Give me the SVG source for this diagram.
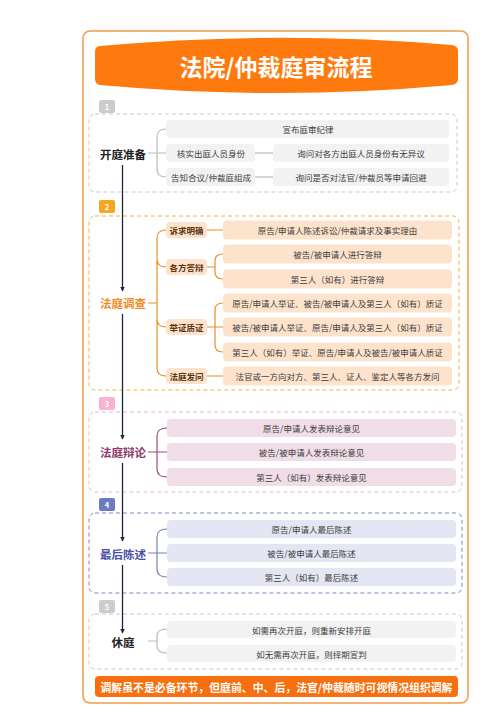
<svg xmlns="http://www.w3.org/2000/svg" width="500" height="721" viewBox="0 0 500 721">
<defs>
<style>
text{font-family:"Noto Sans CJK SC","Noto Sans",sans-serif;}
.t{font-size:8.5px;fill:#3d3d3d;text-anchor:middle;dominant-baseline:central;}
.sl{font-size:8.5px;font-weight:bold;fill:#5a3510;text-anchor:middle;dominant-baseline:central;}
.lab{font-size:11.5px;font-weight:bold;text-anchor:middle;dominant-baseline:central;}
.badge{font-size:7.5px;font-weight:bold;fill:#fff;text-anchor:middle;dominant-baseline:central;}
.dash{fill:none;stroke-width:1;stroke-dasharray:4 3;}
.br{fill:none;stroke-width:1.2;}
.b1{fill:#f2f2f2;}
.b2{fill:#fde3cc;}
.b3{fill:#f1dde7;}
.b4{fill:#e4e6f4;}
.flow{stroke:#1e2640;stroke-width:1.3;fill:none;}
</style>
<marker id="ah" viewBox="0 0 10 10" refX="9" refY="5" markerWidth="5" markerHeight="5" orient="auto" markerUnits="userSpaceOnUse">
<path d="M0,0 L10,5 L0,10 z" fill="#1e2640"/>
</marker>
</defs>

<rect x="0" y="0" width="500" height="721" fill="#ffffff"/>

<g id="frame">
<rect x="83" y="31" width="385" height="672" rx="7" fill="#ffffff" stroke="#f39a4a" stroke-width="1.5"/>
</g>

<g id="title">
<path d="M100,46 Q276,30 452,45 Q458,46 458,51 L458,79 Q458,84 452,85 Q276,101 100,85 Q95,84 95,79 L95,52 Q95,46 100,46 Z" fill="#fe7a0e"/>
<text x="276" y="66" style="font-size:23px;font-weight:bold;fill:#ffffff;text-anchor:middle;dominant-baseline:central;">法院/仲裁庭审流程</text>
</g>

<!-- Section 1 -->
<g id="section1">
<rect x="99" y="100" width="16" height="13" rx="2" fill="#cccccc"/>
<text class="badge" x="107" y="106.5">1</text>
<rect class="dash" x="89" y="114" width="368" height="78" rx="6" stroke="#c8c8c8"/>
<text class="lab" x="123" y="154" fill="#222222">开庭准备</text>
<path class="br" stroke="#bbbbbb" d="M148,153 H166 M166,129 Q157,129 157,137 V169 Q157,177 166,177"/>
<rect class="b1" x="166" y="120" width="283" height="18" rx="4"/>
<text class="t" x="308" y="129">宣布庭审纪律</text>
<rect class="b1" x="166" y="144" width="89" height="18" rx="4"/>
<text class="t" x="211" y="153">核实出庭人员身份</text>
<path class="br" stroke="#bbbbbb" d="M255,153 H273"/>
<rect class="b1" x="273" y="144" width="176" height="18" rx="4"/>
<text class="t" x="361" y="153">询问对各方出庭人员身份有无异议</text>
<rect class="b1" x="166" y="168" width="89" height="18" rx="4"/>
<text class="t" x="211" y="177">告知合议/仲裁庭组成</text>
<path class="br" stroke="#bbbbbb" d="M255,177 H273"/>
<rect class="b1" x="273" y="168" width="176" height="18" rx="4"/>
<text class="t" x="361" y="177">询问是否对法官/仲裁员等申请回避</text>
</g>

<!-- Section 2 -->
<g id="section2">
<rect x="99" y="200" width="16" height="13" rx="2" fill="#f5a623"/>
<text class="badge" x="107" y="206.5">2</text>
<rect class="dash" x="89" y="216" width="370" height="174" rx="6" stroke="#f0b43c" fill="#fffdf8"/>
<text class="lab" x="123" y="303" fill="#f08a24">法庭调查</text>
<path class="br" stroke="#e8902a" d="M148,303 H157 M166,230 Q157,230 157,238 V368 Q157,376 166,376 M157,259 Q157,267 166,267 M157,319 Q157,327 166,327"/>
<rect class="b2" x="166" y="222" width="41" height="16" rx="4"/>
<text class="sl" x="186.5" y="230">诉求明确</text>
<rect class="b2" x="166" y="259" width="41" height="16" rx="4"/>
<text class="sl" x="186.5" y="267">各方答辩</text>
<rect class="b2" x="166" y="319" width="41" height="16" rx="4"/>
<text class="sl" x="186.5" y="327">举证质证</text>
<rect class="b2" x="166" y="368" width="41" height="16" rx="4"/>
<text class="sl" x="186.5" y="376">法庭发问</text>
<path class="br" stroke="#e8902a" d="M207,230 H223 M207,267 H215 M223,254 Q215,254 215,261 V272 Q215,279 223,279 M207,327 H223 M223,303 Q215,303 215,310 V345 Q215,352 223,352 M207,376 H223"/>
<rect class="b2" x="223" y="220.5" width="229" height="19" rx="4"/>
<text class="t" x="337.5" y="230">原告/申请人陈述诉讼/仲裁请求及事实理由</text>
<rect class="b2" x="223" y="244.5" width="229" height="19" rx="4"/>
<text class="t" x="337.5" y="254">被告/被申请人进行答辩</text>
<rect class="b2" x="223" y="269.5" width="229" height="19" rx="4"/>
<text class="t" x="337.5" y="279">第三人（如有）进行答辩</text>
<rect class="b2" x="223" y="293.5" width="229" height="19" rx="4"/>
<text class="t" x="337.5" y="303">原告/申请人举证、被告/被申请人及第三人（如有）质证</text>
<rect class="b2" x="223" y="317.5" width="229" height="19" rx="4"/>
<text class="t" x="337.5" y="327">被告/被申请人举证、原告/申请人及第三人（如有）质证</text>
<rect class="b2" x="223" y="342.5" width="229" height="19" rx="4"/>
<text class="t" x="337.5" y="352">第三人（如有）举证、原告/申请人及被告/被申请人质证</text>
<rect class="b2" x="223" y="366.5" width="229" height="19" rx="4"/>
<text class="t" x="337.5" y="376">法官或一方向对方、第三人、证人、鉴定人等各方发问</text>
</g>

<!-- Section 3 -->
<g id="section3">
<rect x="99" y="397" width="16" height="13" rx="2" fill="#f7b3d0"/>
<text class="badge" x="107" y="403.5">3</text>
<rect class="dash" x="89" y="412" width="373" height="80" rx="6" stroke="#e9b8cb" fill="#fffbfd"/>
<text class="lab" x="123" y="452" fill="#8e3a6a">法庭辩论</text>
<path class="br" stroke="#9b4d78" d="M148,452 H167 M167,428 Q157,428 157,436 V469 Q157,477 167,477"/>
<rect class="b3" x="167" y="419" width="289" height="18" rx="4"/>
<text class="t" x="311.5" y="428">原告/申请人发表辩论意见</text>
<rect class="b3" x="167" y="443" width="289" height="18" rx="4"/>
<text class="t" x="311.5" y="452">被告/被申请人发表辩论意见</text>
<rect class="b3" x="167" y="468" width="289" height="18" rx="4"/>
<text class="t" x="311.5" y="477">第三人（如有）发表辩论意见</text>
</g>

<!-- Section 4 -->
<g id="section4">
<rect x="99" y="498" width="16" height="13" rx="2" fill="#6b7bc4"/>
<text class="badge" x="107" y="504.5">4</text>
<rect class="dash" x="89" y="513" width="373" height="80" rx="6" stroke="#7f86b8" fill="#fcfcff"/>
<text class="lab" x="123" y="554" fill="#4a4fa8">最后陈述</text>
<path class="br" stroke="#7a80b0" d="M148,553 H167 M167,529 Q157,529 157,537 V569 Q157,577 167,577"/>
<rect class="b4" x="167" y="520" width="289" height="18" rx="4"/>
<text class="t" x="311.5" y="529">原告/申请人最后陈述</text>
<rect class="b4" x="167" y="544" width="289" height="18" rx="4"/>
<text class="t" x="311.5" y="553">被告/被申请人最后陈述</text>
<rect class="b4" x="167" y="568" width="289" height="18" rx="4"/>
<text class="t" x="311.5" y="577">第三人（如有）最后陈述</text>
</g>

<!-- Section 5 -->
<g id="section5">
<rect x="99" y="600" width="16" height="13" rx="2" fill="#cccccc"/>
<text class="badge" x="107" y="606.5">5</text>
<rect class="dash" x="89" y="614" width="373" height="55" rx="6" stroke="#c8c8c8"/>
<text class="lab" x="123" y="642" fill="#222222">休庭</text>
<path class="br" stroke="#bbbbbb" d="M148,641 H157 M167,629 Q157,629 157,636 V646 Q157,653 167,653"/>
<rect class="b1" x="167" y="621" width="289" height="17" rx="4"/>
<text class="t" x="311.5" y="629.5">如需再次开庭，则重新安排开庭</text>
<rect class="b1" x="167" y="645" width="289" height="17" rx="4"/>
<text class="t" x="311.5" y="653.5">如无需再次开庭，则择期宣判</text>
</g>

<g id="connectors">
<line class="flow" x1="122.5" y1="165" x2="122.5" y2="291" marker-end="url(#ah)"/>
<line class="flow" x1="122.5" y1="314" x2="122.5" y2="439" marker-end="url(#ah)"/>
<line class="flow" x1="122.5" y1="463" x2="122.5" y2="541" marker-end="url(#ah)"/>
<line class="flow" x1="122.5" y1="565" x2="122.5" y2="633" marker-end="url(#ah)"/>
</g>

<g id="footer">
<rect x="95" y="676" width="363" height="21" rx="4" fill="#f76f0e"/>
<text x="276.5" y="686.5" textLength="352" lengthAdjust="spacingAndGlyphs" style="font-size:11px;font-weight:bold;fill:#ffffff;text-anchor:middle;dominant-baseline:central;">调解虽不是必备环节，但庭前、中、后，法官/仲裁随时可视情况组织调解</text>
</g>
</svg>
